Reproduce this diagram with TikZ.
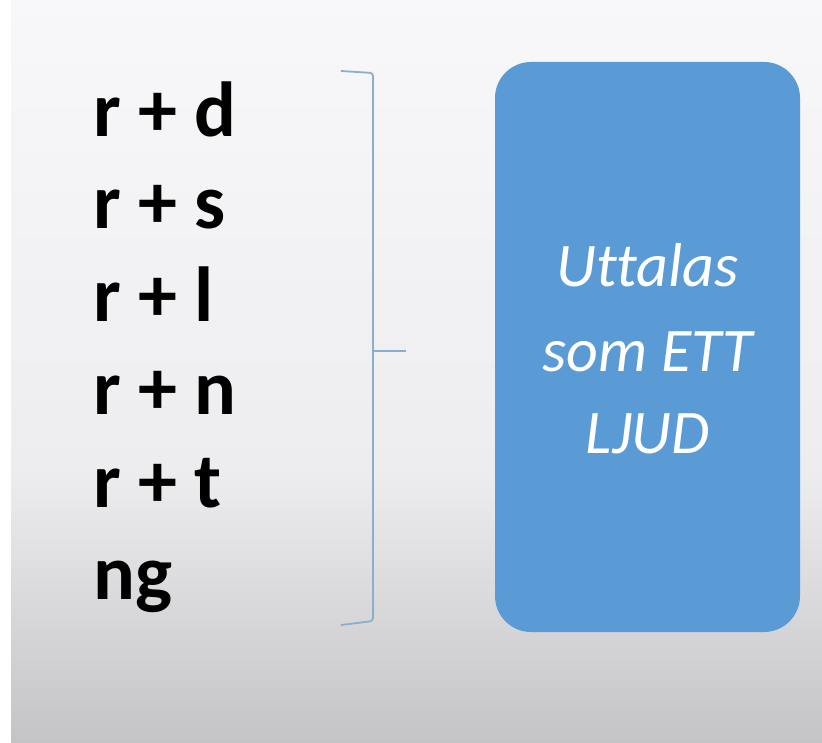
\documentclass[tikz,border=0pt]{standalone}
\usepackage{fontspec}
\setmainfont{Carlito}[Ligatures=NoCommon, RawFeature=-calt]
\usepackage{xcolor}
\definecolor{boxblue}{HTML}{5B9BD5}
\definecolor{bracecol}{HTML}{8AAFCB}
\definecolor{bgtop}{HTML}{F8F7F9}
\definecolor{bgmid}{HTML}{EDECEE}
\definecolor{bgbot}{HTML}{C4C3C5}

\begin{document}
\begin{tikzpicture}[x=1pt, y=-1pt,
    combo/.style={anchor=base west, inner sep=0pt, font=\bfseries\fontsize{78}{92}\selectfont},
    sound/.style={anchor=base, inner sep=0pt, text=white, font=\itshape\fontsize{62}{83}\selectfont}]
    % Background
    \useasboundingbox (0,0) rectangle (822,743);
    \shade[top color=bgtop, bottom color=bgmid] (0,0) rectangle (822,470);
    \shade[top color=bgmid, bottom color=bgbot] (0,470) rectangle (822,743);
    \fill[white] (0,0) rectangle (11,743);

    % Letter combinations
    \node[combo] (rd) at (93,137) {r + d};
    \node[combo] (rs) at (93,229) {r + s};
    \node[combo] (rl) at (93,322) {r + l};
    \node[combo] (rn) at (93,414) {r + n};
    \node[combo] (rt) at (93,507) {r + t};
    \node[combo] (ng) at (93,599) {ng};

    % Brace
    \coordinate (bracetop) at (341,71);
    \coordinate (bracebot) at (341,625);
    \coordinate (bracetip) at (406,351);
    \draw[bracecol, line width=1.8pt, rounded corners=3pt]
        (bracetop) -- (373,73) -- (373,621) -- (bracebot);
    \draw[bracecol, line width=1.8pt] (373,351) -- (bracetip);

    % Blue box
    \node[draw=none, fill=boxblue, rounded corners=36pt, minimum width=305pt, minimum height=570pt, inner sep=0pt] (box) at (647.5,347) {};

    % Text in the box
    \node[sound] (l1) at (647.5,287) {Uttalas};
    \node[sound] (l2) at (647.5,371) {som ETT};
    \node[sound] (l3) at (647.5,453) {LJUD};
\end{tikzpicture}
\end{document}
